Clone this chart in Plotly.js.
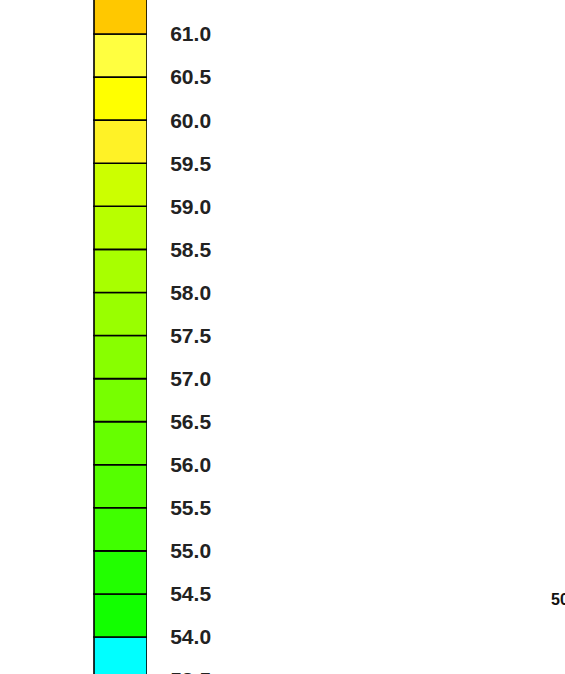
<!DOCTYPE html>
<html>
<head>
<meta charset="utf-8">
<script src="https://cdn.plot.ly/plotly-3.0.1.min.js"></script>
<style>html,body{margin:0;padding:0;background:#fff;overflow:hidden;}#chart{width:565px;height:674px;overflow:hidden;}</style>
</head>
<body>
<div id="chart"></div>
<script>
// Colour bands of the legend (lower bound of each band, band height)
var bandLow = [53.5, 54.0, 54.5, 55.0, 55.5, 56.0, 56.5, 57.0, 57.5, 58.0, 58.5, 59.0, 59.5, 60.0, 60.5, 61.0];
var bandSize = [0.5, 0.5, 0.5, 0.5, 0.5, 0.5, 0.5, 0.5, 0.5, 0.5, 0.5, 0.5, 0.5, 0.5, 0.5, 0.5];
var bandColors = ['#00FFFF', '#12FF00', '#22FF00', '#40FF00', '#55FF00', '#66FF00', '#77FF00', '#88FF00',
                  '#99FF00', '#A8FF00', '#B8FF00', '#CCFF00', '#FFF226', '#FFFF00', '#FFFF40', '#FFC800'];
var tickValues = [53.5, 54.0, 54.5, 55.0, 55.5, 56.0, 56.5, 57.0, 57.5, 58.0, 58.5, 59.0, 59.5, 60.0, 60.5, 61.0];
var cornerLabel = '50';

var trace = {
  type: 'bar',
  x: bandLow.map(function(){ return 120.5; }),
  y: bandSize,
  base: bandLow,
  width: bandLow.map(function(){ return 53; }),
  marker: { color: bandColors, line: { color: '#000', width: 1.6 } },
  hoverinfo: 'skip',
  showlegend: false
};

// figure is taller than the window so the lowest label is cut by the window edge, as in the reference
var H = 700;
var layout = {
  width: 565, height: H,
  margin: { l: 0, r: 0, t: 0, b: 0, pad: 0 },
  paper_bgcolor: '#fff', plot_bgcolor: '#fff',
  xaxis: { domain: [0, 147 / 565], range: [0, 147], visible: false, fixedrange: true },
  yaxis: {
    range: [53.2686, 61.395], side: 'right', showgrid: false, zeroline: false, showline: false,
    tickvals: tickValues, tickformat: '.1f',
    ticks: 'outside', ticklen: 18, tickcolor: 'rgba(0,0,0,0)',
    tickfont: { family: 'Liberation Sans, Arial, sans-serif', size: 21, color: '#222', weight: 'bold' }
  },
  annotations: [{
    text: cornerLabel, xref: 'paper', yref: 'paper', x: 549 / 565, y: 1 - 599 / H,
    xanchor: 'left', yanchor: 'middle', showarrow: false,
    font: { family: 'Liberation Sans, Arial, sans-serif', size: 16, color: '#111', weight: 'bold' }
  }]
};

Plotly.newPlot('chart', [trace], layout, { displayModeBar: false, staticPlot: true });
</script>
</body>
</html>
